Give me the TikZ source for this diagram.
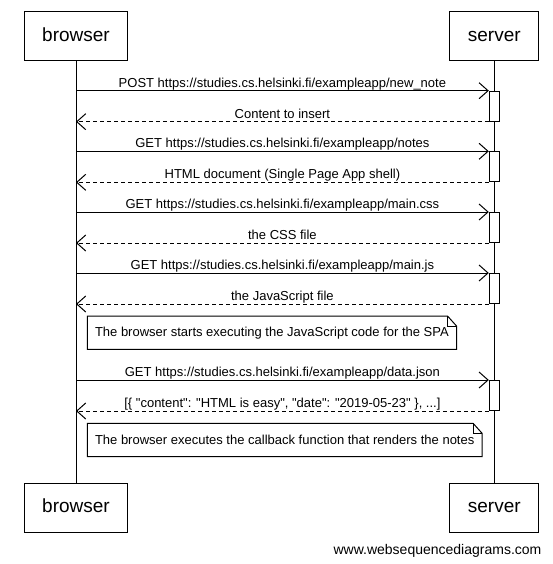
\documentclass[tikz,border=0pt]{standalone}
\usepackage{fontspec}
\setmainfont{Liberation Sans}[Ligatures=TeXOff]
\usetikzlibrary{arrows.meta}
\usetikzlibrary{calc}

\tikzset{
  actor/.style={draw, line width=1pt, inner xsep=18pt, minimum height=49pt,
    text height=14pt, text depth=4pt, font=\fontsize{19}{22}\selectfont},
  msg/.style={line width=1pt, -{Straight Barb[length=9pt,width=16pt]}},
  ret/.style={msg, dash pattern=on 4pt off 3pt},
  lbl/.style={anchor=base, inner sep=0pt, yshift=3.5pt, font=\fontsize{13}{15}\selectfont},
  act/.style={draw, line width=1pt, fill=white, minimum width=10pt,
    minimum height=30pt, inner sep=0pt, anchor=north},
  notetext/.style={anchor=north west, inner xsep=7.5pt, inner ysep=0pt,
    minimum height=33pt, font=\fontsize{13}{15}\selectfont},
  noteline/.style={line width=1pt},
}

\begin{document}
\begin{tikzpicture}[x=1pt,y=-1pt]
    \useasboundingbox (0,0) rectangle (552,564);

    % participants
    \node [actor] (bTop) at (76,36.2)  {browser};
    \node [actor] (sTop) at (494.3,36.2) {server};
    \node [actor] (bBot) at (76,507.8)  {browser};
    \node [actor] (sBot) at (494.3,507.8) {server};
    \draw [line width=1pt] (bTop) -- (bBot);
    \draw [line width=1pt] (sTop) -- (sBot);

    % activations on the server
    \node [act] (act1) at (494.3,90.7) {};
    \node [act] (act2) at (494.3,151.3) {};
    \node [act] (act3) at (494.3,212) {};
    \node [act] (act4) at (494.3,273) {};
    \node [act] (act5) at (494.3,380) {};

    % requests and responses
    \draw [msg] (act1.north west -| bTop) -- node[lbl] {POST https://studies.cs.helsinki.fi/exampleapp/new\_note} (act1.north west);
    \draw [ret] (act1.south west) -- node[lbl] {Content to insert} (act1.south west -| bTop);

    \draw [msg] (act2.north west -| bTop) -- node[lbl] {GET https://studies.cs.helsinki.fi/exampleapp/notes} (act2.north west);
    \draw [ret] (act2.south west) -- node[lbl] {HTML document (Single Page App shell)} (act2.south west -| bTop);

    \draw [msg] (act3.north west -| bTop) -- node[lbl] {GET https://studies.cs.helsinki.fi/exampleapp/main.css} (act3.north west);
    \draw [ret] (act3.south west) -- node[lbl] {the CSS file} (act3.south west -| bTop);

    \draw [msg] (act4.north west -| bTop) -- node[lbl] {GET https://studies.cs.helsinki.fi/exampleapp/main.js} (act4.north west);
    \draw [ret] (act4.south west) -- node[lbl] {the JavaScript file} (act4.south west -| bTop);

    % first note
    \node [notetext] (note1) at (87.3,316) {The browser starts executing the JavaScript code for the SPA};
    \draw [noteline] (note1.north west) -- ([xshift=-9pt]note1.north east) -- ([yshift=-10pt]note1.north east)
        -- (note1.south east) -- (note1.south west) -- cycle;
    \draw [noteline] ([xshift=-9pt]note1.north east) |- ([yshift=-10pt]note1.north east);

    \draw [msg] (act5.north west -| bTop) -- node[lbl] {GET https://studies.cs.helsinki.fi/exampleapp/data.json} (act5.north west);
    \draw [ret] (act5.south west) -- node[lbl] {[\{ "content": "HTML is easy", "date": "2019-05-23" \}, ...]} (act5.south west -| bTop);

    % second note
    \node [notetext] (note2) at (87.3,423.3) {The browser executes the callback function that renders the notes};
    \draw [noteline] (note2.north west) -- ([xshift=-9pt]note2.north east) -- ([yshift=-10pt]note2.north east)
        -- (note2.south east) -- (note2.south west) -- cycle;
    \draw [noteline] ([xshift=-9pt]note2.north east) |- ([yshift=-10pt]note2.north east);

    \node [font=\fontsize{14}{16}\selectfont] (mark) at (437.5,551) {www.websequencediagrams.com};
\end{tikzpicture}
\end{document}
